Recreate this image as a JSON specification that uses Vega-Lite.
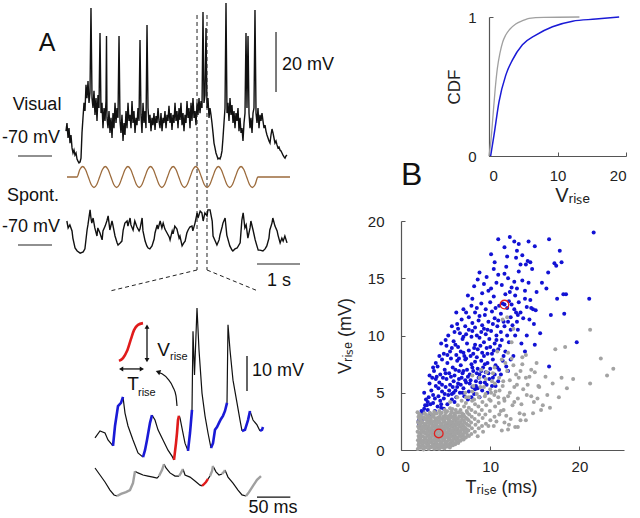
{
"$schema": "https://vega.github.io/schema/vega-lite/v6.json",
"padding": 0,
"background": "white",
"config": {
  "font": "Liberation Sans",
  "view": {"stroke": null},
  "axis": {"grid": false, "domainColor": "#555", "tickColor": "#555", "labelColor": "#222", "titleColor": "#222", "labelFontSize": 15, "titleFontSize": 18, "titleFontWeight": "normal", "tickSize": -4, "labelPadding": 10, "domainWidth": 1.2}
},
"spacing": 0,
"hconcat": [
{
  "width": 336, "height": 518,
  "resolve": {"scale": {"x": "independent", "y": "independent"}},
  "layer": [
    {
      "encoding": {
        "x": {"field": "t", "type": "quantitative", "scale": {"domain": [-1.5349, 6.2791], "nice": false, "zero": false}, "axis": null},
        "y": {"field": "v", "type": "quantitative", "scale": {"domain": [-191.667, -19], "nice": false, "zero": false}, "axis": null}
      },
      "layer": [
        {"data": {"values": [
{"t":0,"v":-61.7},{"t":0.023,"v":-59},{"t":0.047,"v":-64},{"t":0.07,"v":-60.7},{"t":0.093,"v":-65.7},{"t":0.116,"v":-63},{"t":0.14,"v":-67.3},{"t":0.163,"v":-69},{"t":0.186,"v":-68},{"t":0.209,"v":-69.7},{"t":0.233,"v":-69},{"t":0.256,"v":-71},{"t":0.279,"v":-71.7},{"t":0.302,"v":-72.3},{"t":0.326,"v":-72},{"t":0.349,"v":-70.7},{"t":0.372,"v":-62.3},{"t":0.395,"v":-57.3},{"t":0.419,"v":-52.3},{"t":0.442,"v":-55},{"t":0.465,"v":-46.3},{"t":0.488,"v":-50.7},{"t":0.512,"v":-45},{"t":0.535,"v":-52.3},{"t":0.558,"v":-49},{"t":0.581,"v":-20.7},{"t":0.605,"v":-50.7},{"t":0.628,"v":-54},{"t":0.651,"v":-48.3},{"t":0.674,"v":-56.3},{"t":0.698,"v":-50.7},{"t":0.721,"v":-58.3},{"t":0.744,"v":-49.7},{"t":0.767,"v":-54},{"t":0.791,"v":-29},{"t":0.814,"v":-55.7},{"t":0.837,"v":-52.3},{"t":0.86,"v":-60.7},{"t":0.884,"v":-54},{"t":0.907,"v":-58.3},{"t":0.93,"v":-51.7},{"t":0.942,"v":-30},{"t":0.953,"v":-57.3},{"t":0.977,"v":-60.7},{"t":1.0,"v":-55},{"t":1.023,"v":-62.3},{"t":1.047,"v":-57.3},{"t":1.07,"v":-64},{"t":1.093,"v":-55.7},{"t":1.116,"v":-60.7},{"t":1.14,"v":-52.3},{"t":1.163,"v":-59},{"t":1.186,"v":-54},{"t":1.209,"v":-57.3},{"t":1.233,"v":-30},{"t":1.256,"v":-58.3},{"t":1.279,"v":-62.3},{"t":1.302,"v":-56.3},{"t":1.326,"v":-65},{"t":1.349,"v":-59},{"t":1.372,"v":-63},{"t":1.395,"v":-55},{"t":1.419,"v":-60.7},{"t":1.442,"v":-52.3},{"t":1.465,"v":-58.3},{"t":1.488,"v":-56.3},{"t":1.512,"v":-60.7},{"t":1.535,"v":-51.7},{"t":1.558,"v":-59},{"t":1.581,"v":-55},{"t":1.605,"v":-62.3},{"t":1.628,"v":-57.3},{"t":1.651,"v":-59.7},{"t":1.674,"v":-54},{"t":1.698,"v":-58.3},{"t":1.721,"v":-31.3},{"t":1.744,"v":-56.3},{"t":1.767,"v":-62.3},{"t":1.791,"v":-52.3},{"t":1.814,"v":-59},{"t":1.837,"v":-55},{"t":1.86,"v":-60.7},{"t":1.884,"v":-26.3},{"t":1.907,"v":-54},{"t":1.93,"v":-59},{"t":1.953,"v":-56.3},{"t":1.977,"v":-61.7},{"t":2.0,"v":-57.3},{"t":2.023,"v":-59.7},{"t":2.047,"v":-55.7},{"t":2.07,"v":-61.3},{"t":2.093,"v":-56.7},{"t":2.116,"v":-59},{"t":2.14,"v":-54},{"t":2.163,"v":-58.3},{"t":2.186,"v":-60.7},{"t":2.209,"v":-55.7},{"t":2.233,"v":-61.7},{"t":2.256,"v":-57.3},{"t":2.279,"v":-59},{"t":2.302,"v":-55},{"t":2.326,"v":-60.7},{"t":2.349,"v":-56.3},{"t":2.372,"v":-58.3},{"t":2.395,"v":-53.3},{"t":2.419,"v":-59},{"t":2.442,"v":-55.7},{"t":2.465,"v":-61.3},{"t":2.488,"v":-56.3},{"t":2.512,"v":-59},{"t":2.535,"v":-52.3},{"t":2.558,"v":-58.3},{"t":2.581,"v":-55},{"t":2.605,"v":-60.7},{"t":2.628,"v":-54},{"t":2.651,"v":-58},{"t":2.674,"v":-52.3},{"t":2.698,"v":-59.7},{"t":2.721,"v":-55.7},{"t":2.744,"v":-61.7},{"t":2.767,"v":-56.3},{"t":2.791,"v":-59},{"t":2.814,"v":-51.7},{"t":2.837,"v":-57.3},{"t":2.86,"v":-54},{"t":2.884,"v":-60.7},{"t":2.907,"v":-52.3},{"t":2.93,"v":-58.3},{"t":2.953,"v":-50.7},{"t":2.977,"v":-57.3},{"t":3.0,"v":-55},{"t":3.023,"v":-59.7},{"t":3.047,"v":-52.3},{"t":3.07,"v":-56.3},{"t":3.093,"v":-50.7},{"t":3.116,"v":-55.7},{"t":3.14,"v":-51.7},{"t":3.163,"v":-54},{"t":3.186,"v":-22},{"t":3.209,"v":-52.3},{"t":3.233,"v":-49.7},{"t":3.256,"v":-27.3},{"t":3.279,"v":-54},{"t":3.302,"v":-50.7},{"t":3.326,"v":-57.3},{"t":3.349,"v":-54},{"t":3.372,"v":-56.3},{"t":3.395,"v":-59},{"t":3.419,"v":-62.3},{"t":3.442,"v":-65.7},{"t":3.465,"v":-67.3},{"t":3.488,"v":-69},{"t":3.512,"v":-70},{"t":3.535,"v":-71},{"t":3.558,"v":-70.7},{"t":3.581,"v":-71},{"t":3.605,"v":-70},{"t":3.628,"v":-68.3},{"t":3.651,"v":-64},{"t":3.674,"v":-59},{"t":3.698,"v":-54},{"t":3.721,"v":-19},{"t":3.744,"v":-55.7},{"t":3.767,"v":-52.3},{"t":3.791,"v":-58.3},{"t":3.814,"v":-50.7},{"t":3.837,"v":-56.3},{"t":3.86,"v":-53},{"t":3.884,"v":-59},{"t":3.907,"v":-55},{"t":3.93,"v":-60.7},{"t":3.953,"v":-55.7},{"t":3.977,"v":-58.3},{"t":4.0,"v":-54},{"t":4.023,"v":-61.7},{"t":4.047,"v":-57.3},{"t":4.07,"v":-62.3},{"t":4.093,"v":-60.7},{"t":4.116,"v":-65},{"t":4.14,"v":-59},{"t":4.163,"v":-55.7},{"t":4.186,"v":-29},{"t":4.209,"v":-54},{"t":4.233,"v":-30},{"t":4.256,"v":-55.7},{"t":4.279,"v":-60.7},{"t":4.302,"v":-57.3},{"t":4.326,"v":-62.3},{"t":4.349,"v":-55.7},{"t":4.372,"v":-54},{"t":4.395,"v":-21.3},{"t":4.419,"v":-55.7},{"t":4.442,"v":-59},{"t":4.465,"v":-54},{"t":4.488,"v":-60.7},{"t":4.512,"v":-56.3},{"t":4.535,"v":-58.3},{"t":4.558,"v":-55.7},{"t":4.581,"v":-58.3},{"t":4.605,"v":-60.7},{"t":4.628,"v":-59.7},{"t":4.651,"v":-61.7},{"t":4.674,"v":-63},{"t":4.698,"v":-64},{"t":4.721,"v":-65},{"t":4.744,"v":-65.7},{"t":4.767,"v":-63},{"t":4.791,"v":-61},{"t":4.814,"v":-62.3},{"t":4.837,"v":-64},{"t":4.86,"v":-65.7},{"t":4.884,"v":-65},{"t":4.907,"v":-66.3},{"t":4.93,"v":-67.3},{"t":4.953,"v":-67},{"t":4.977,"v":-68},{"t":5.0,"v":-68.3},{"t":5.023,"v":-69},{"t":5.047,"v":-69.7},{"t":5.07,"v":-70.3},{"t":5.093,"v":-70.7},{"t":5.116,"v":-70},{"t":5.14,"v":-69.7}
        ]}, "mark": {"type": "line", "color": "#111", "strokeWidth": 1.4}},
        {"data": {"values": [
          {"t":3.047,"v":-23,"t2":3.047,"v2":-108},{"t":3.279,"v":-23,"t2":3.279,"v2":-108},
          {"t":3.047,"v":-108,"t2":1.023,"v2":-115},{"t":3.279,"v":-108,"t2":4.465,"v2":-115}
        ]}, "mark": {"type": "rule", "strokeDash": [4, 3], "strokeWidth": 1, "color": "#222"},
         "encoding": {"x2": {"field": "t2"}, "y2": {"field": "v2"}}},
        {"data": {"values": [
          {"t":-1.116,"v":-70,"t2":-0.326,"v2":-70},{"t":4.884,"v":-28.67,"t2":4.884,"v2":-48.67},{"t":4.442,"v":-106,"t2":5.442,"v2":-106}
        ]}, "mark": {"type": "rule", "strokeWidth": 1.2, "color": "#222"},
         "encoding": {"x2": {"field": "t2"}, "y2": {"field": "v2"}}},
        {"data": {"values": [
          {"t":-0.674,"v":-53,"label":"Visual"},{"t":-0.814,"v":-64,"label":"-70 mV"},{"t":4.953,"v":-111.7,"label":"1 s"}
        ]}, "mark": {"type": "text", "fontSize": 18, "align": "center", "baseline": "middle", "color": "#111"},
         "encoding": {"text": {"field": "label"}}},
        {"data": {"values": [{"t":5.023,"v":-39.67,"label":"20 mV"}]},
         "mark": {"type": "text", "fontSize": 18, "align": "left", "baseline": "middle", "color": "#111"},
         "encoding": {"text": {"field": "label"}}},
        {"data": {"values": [{"t":-0.442,"v":-32.3,"label":"A"}]},
         "mark": {"type": "text", "fontSize": 25, "align": "center", "baseline": "middle", "color": "#111"},
         "encoding": {"text": {"field": "label"}}}
      ]
    },
    {
      "encoding": {
        "x": {"field": "t", "type": "quantitative", "scale": {"domain": [-1.5349, 6.2791], "nice": false, "zero": false}, "axis": null},
        "y": {"field": "v", "type": "quantitative", "scale": {"domain": [-162, 10.667], "nice": false, "zero": false}, "axis": null}
      },
      "layer": [
        {"data": {"values": [
{"t":0.02,"v":-62},{"t":0.05,"v":-64.3},{"t":0.09,"v":-63.3},{"t":0.14,"v":-65.3},{"t":0.16,"v":-67.7},{"t":0.21,"v":-71},{"t":0.26,"v":-72},{"t":0.33,"v":-72.7},{"t":0.4,"v":-72.3},{"t":0.44,"v":-71.3},{"t":0.49,"v":-65},{"t":0.51,"v":-63.3},{"t":0.56,"v":-58.3},{"t":0.58,"v":-61},{"t":0.6,"v":-62.7},{"t":0.63,"v":-61},{"t":0.67,"v":-64.3},{"t":0.72,"v":-67},{"t":0.74,"v":-64.3},{"t":0.79,"v":-66},{"t":0.84,"v":-68.3},{"t":0.86,"v":-65.3},{"t":0.91,"v":-63.7},{"t":0.95,"v":-62},{"t":0.98,"v":-60.3},{"t":1.02,"v":-65},{"t":1.07,"v":-62},{"t":1.09,"v":-63.3},{"t":1.14,"v":-67},{"t":1.19,"v":-69.3},{"t":1.21,"v":-70},{"t":1.26,"v":-69.3},{"t":1.3,"v":-68.7},{"t":1.33,"v":-65},{"t":1.37,"v":-62.7},{"t":1.42,"v":-62},{"t":1.44,"v":-63.7},{"t":1.49,"v":-61},{"t":1.51,"v":-63.3},{"t":1.56,"v":-65},{"t":1.6,"v":-62},{"t":1.65,"v":-64},{"t":1.7,"v":-65.3},{"t":1.72,"v":-64.7},{"t":1.77,"v":-61},{"t":1.79,"v":-65.3},{"t":1.84,"v":-68.7},{"t":1.88,"v":-70.3},{"t":1.91,"v":-71},{"t":1.95,"v":-71.3},{"t":2.0,"v":-70.3},{"t":2.05,"v":-68},{"t":2.07,"v":-66},{"t":2.12,"v":-63.3},{"t":2.14,"v":-64.7},{"t":2.19,"v":-62},{"t":2.23,"v":-64.3},{"t":2.26,"v":-62.7},{"t":2.3,"v":-64.7},{"t":2.35,"v":-66},{"t":2.4,"v":-67.3},{"t":2.42,"v":-68.3},{"t":2.47,"v":-65.3},{"t":2.49,"v":-66.3},{"t":2.53,"v":-63.7},{"t":2.58,"v":-64.7},{"t":2.63,"v":-67.7},{"t":2.65,"v":-67},{"t":2.7,"v":-70.3},{"t":2.74,"v":-69.3},{"t":2.77,"v":-68.7},{"t":2.81,"v":-66},{"t":2.84,"v":-65},{"t":2.88,"v":-64},{"t":2.93,"v":-63.7},{"t":2.95,"v":-65.3},{"t":3.0,"v":-62.7},{"t":3.05,"v":-59.3},{"t":3.07,"v":-61},{"t":3.12,"v":-58.7},{"t":3.16,"v":-59.3},{"t":3.19,"v":-62},{"t":3.23,"v":-59.3},{"t":3.28,"v":-60.3},{"t":3.3,"v":-58.3},{"t":3.35,"v":-58.3},{"t":3.4,"v":-62},{"t":3.42,"v":-67},{"t":3.47,"v":-68.7},{"t":3.51,"v":-70},{"t":3.56,"v":-68.3},{"t":3.58,"v":-66.7},{"t":3.63,"v":-64},{"t":3.65,"v":-62.7},{"t":3.7,"v":-61},{"t":3.74,"v":-66.7},{"t":3.79,"v":-69.3},{"t":3.81,"v":-70.3},{"t":3.86,"v":-71.7},{"t":3.88,"v":-72},{"t":3.93,"v":-71.3},{"t":3.98,"v":-71},{"t":4.05,"v":-69.3},{"t":4.09,"v":-61.7},{"t":4.12,"v":-59.3},{"t":4.16,"v":-64.3},{"t":4.19,"v":-63.3},{"t":4.23,"v":-67.7},{"t":4.28,"v":-64.3},{"t":4.3,"v":-62},{"t":4.35,"v":-65},{"t":4.4,"v":-68.3},{"t":4.44,"v":-70.3},{"t":4.47,"v":-71.7},{"t":4.51,"v":-71.7},{"t":4.58,"v":-72},{"t":4.63,"v":-71.3},{"t":4.67,"v":-70.3},{"t":4.72,"v":-67.7},{"t":4.74,"v":-65},{"t":4.79,"v":-62.7},{"t":4.81,"v":-61},{"t":4.86,"v":-63.7},{"t":4.91,"v":-65.3},{"t":4.93,"v":-66.7},{"t":4.98,"v":-69.3},{"t":5.02,"v":-67.7},{"t":5.05,"v":-68.7},{"t":5.09,"v":-67},{"t":5.14,"v":-69.3}
        ]}, "mark": {"type": "line", "color": "#111", "strokeWidth": 1.4}},
        {"data": {"values": [{"t":-1.116,"v":-70,"t2":-0.326,"v2":-70}]},
         "mark": {"type": "rule", "strokeWidth": 1.2, "color": "#222"},
         "encoding": {"x2": {"field": "t2"}, "y2": {"field": "v2"}}},
        {"data": {"values": [{"t":-0.767,"v":-53.7,"label":"Spont."},{"t":-0.814,"v":-64,"label":"-70 mV"}]},
         "mark": {"type": "text", "fontSize": 18, "align": "center", "baseline": "middle", "color": "#111"},
         "encoding": {"text": {"field": "label"}}}
      ]
    },
    {
      "data": {"values": [
{"t":0.023,"c":0},{"t":0.256,"c":0},{"t":0.322,"c":0.71},{"t":0.388,"c":1},{"t":0.453,"c":0.71},{"t":0.519,"c":0},{"t":0.585,"c":-0.71},{"t":0.651,"c":-1},{"t":0.716,"c":-0.71},{"t":0.782,"c":0},{"t":0.848,"c":0.71},{"t":0.914,"c":1},{"t":0.979,"c":0.71},{"t":1.045,"c":0},{"t":1.111,"c":-0.71},{"t":1.177,"c":-1},{"t":1.242,"c":-0.71},{"t":1.308,"c":0},{"t":1.374,"c":0.71},{"t":1.44,"c":1},{"t":1.505,"c":0.71},{"t":1.571,"c":0},{"t":1.637,"c":-0.71},{"t":1.703,"c":-1},{"t":1.768,"c":-0.71},{"t":1.834,"c":0},{"t":1.9,"c":0.71},{"t":1.966,"c":1},{"t":2.031,"c":0.71},{"t":2.097,"c":0},{"t":2.163,"c":-0.71},{"t":2.229,"c":-1},{"t":2.294,"c":-0.71},{"t":2.36,"c":0},{"t":2.426,"c":0.71},{"t":2.492,"c":1},{"t":2.557,"c":0.71},{"t":2.623,"c":0},{"t":2.689,"c":-0.71},{"t":2.755,"c":-1},{"t":2.82,"c":-0.71},{"t":2.886,"c":0},{"t":2.952,"c":0.71},{"t":3.018,"c":1},{"t":3.083,"c":0.71},{"t":3.149,"c":0},{"t":3.215,"c":-0.71},{"t":3.281,"c":-1},{"t":3.346,"c":-0.71},{"t":3.412,"c":0},{"t":3.478,"c":0.71},{"t":3.544,"c":1},{"t":3.609,"c":0.71},{"t":3.675,"c":0},{"t":3.741,"c":-0.71},{"t":3.807,"c":-1},{"t":3.872,"c":-0.71},{"t":3.938,"c":0},{"t":4.004,"c":0.71},{"t":4.07,"c":1},{"t":4.135,"c":0.71},{"t":4.201,"c":0},{"t":4.267,"c":-0.71},{"t":4.333,"c":-1},{"t":4.398,"c":-0.71},{"t":4.464,"c":0},{"t":5.21,"c":0}
      ]},
      "mark": {"type": "line", "color": "#9c6b3c", "strokeWidth": 1.3, "interpolate": "monotone"},
      "encoding": {
        "x": {"field": "t", "type": "quantitative", "scale": {"domain": [-1.5349, 6.2791], "nice": false, "zero": false}, "axis": null},
        "y": {"field": "c", "type": "quantitative", "scale": {"domain": [-32.762, 16.571], "nice": false, "zero": false}, "axis": null}
      }
    },
    {
      "encoding": {
        "x": {"field": "t", "type": "quantitative", "scale": {"domain": [-142.5, 361.5], "nice": false, "zero": false}, "axis": null},
        "y": {"field": "v", "type": "quantitative", "scale": {"domain": [-87.143, 60.857], "nice": false, "zero": false}, "axis": null}
      },
      "layer": [
        {"data": {"name": "zv", "values": [
{"t":0,"v":-63.4,"seg":1,"kind":"k"},{"t":7.5,"v":-61.4,"seg":1,"kind":"k"},{"t":15,"v":-62.0,"seg":1,"kind":"k"},{"t":19.5,"v":-64.0,"seg":1,"kind":"k"},{"t":27,"v":-65.7,"seg":1,"kind":"k"},
{"t":27,"v":-65.7,"seg":2,"kind":"b"},{"t":30,"v":-60.0,"seg":2,"kind":"b"},{"t":34.5,"v":-54.3,"seg":2,"kind":"b"},{"t":39,"v":-53.4,"seg":2,"kind":"b"},{"t":42,"v":-51.7,"seg":2,"kind":"b"},
{"t":42,"v":-51.7,"seg":3,"kind":"k"},{"t":45,"v":-56.3,"seg":3,"kind":"k"},{"t":49.5,"v":-60.0,"seg":3,"kind":"k"},{"t":57,"v":-64.0,"seg":3,"kind":"k"},{"t":64.5,"v":-67.7,"seg":3,"kind":"k"},{"t":72,"v":-68.9,"seg":3,"kind":"k"},
{"t":72,"v":-68.9,"seg":4,"kind":"b"},{"t":75,"v":-66.9,"seg":4,"kind":"b"},{"t":78,"v":-64.0,"seg":4,"kind":"b"},{"t":82.5,"v":-59.1,"seg":4,"kind":"b"},{"t":85.5,"v":-56.9,"seg":4,"kind":"b"},
{"t":85.5,"v":-56.9,"seg":5,"kind":"k"},{"t":90,"v":-58.3,"seg":5,"kind":"k"},{"t":94.5,"v":-61.1,"seg":5,"kind":"k"},{"t":102,"v":-64.0,"seg":5,"kind":"k"},{"t":109.5,"v":-66.9,"seg":5,"kind":"k"},{"t":115.5,"v":-68.6,"seg":5,"kind":"k"},{"t":118.5,"v":-69.7,"seg":5,"kind":"k"},
{"t":118.5,"v":-69.7,"seg":6,"kind":"r"},{"t":121.5,"v":-64.9,"seg":6,"kind":"r"},{"t":123,"v":-62.0,"seg":6,"kind":"r"},{"t":124.5,"v":-58.3,"seg":6,"kind":"r"},{"t":126,"v":-57.1,"seg":6,"kind":"r"},
{"t":126,"v":-57.1,"seg":7,"kind":"k"},{"t":127.5,"v":-57.7,"seg":7,"kind":"k"},{"t":130.5,"v":-60.6,"seg":7,"kind":"k"},{"t":135,"v":-64.9,"seg":7,"kind":"k"},{"t":139.5,"v":-67.1,"seg":7,"kind":"k"},
{"t":139.5,"v":-67.1,"seg":8,"kind":"b"},{"t":142.5,"v":-62.0,"seg":8,"kind":"b"},{"t":145.5,"v":-55.4,"seg":8,"kind":"b"},
{"t":145.5,"v":-55.4,"seg":9,"kind":"k"},{"t":147,"v":-32.9,"seg":9,"kind":"k"},{"t":149.25,"v":-45.4,"seg":9,"kind":"k"},{"t":153,"v":-26.3,"seg":9,"kind":"k"},{"t":156,"v":-38.3,"seg":9,"kind":"k"},{"t":160.5,"v":-50.6,"seg":9,"kind":"k"},{"t":165,"v":-57.1,"seg":9,"kind":"k"},{"t":169.5,"v":-62.0,"seg":9,"kind":"k"},{"t":174,"v":-66.3,"seg":9,"kind":"k"},
{"t":174,"v":-66.3,"seg":10,"kind":"b"},{"t":177,"v":-64.9,"seg":10,"kind":"b"},{"t":180,"v":-61.1,"seg":10,"kind":"b"},{"t":183,"v":-60.3,"seg":10,"kind":"b"},{"t":186,"v":-59.1,"seg":10,"kind":"b"},{"t":189,"v":-58.0,"seg":10,"kind":"b"},{"t":192,"v":-57.1,"seg":10,"kind":"b"},{"t":195,"v":-55.7,"seg":10,"kind":"b"},{"t":198,"v":-53.4,"seg":10,"kind":"b"},
{"t":198,"v":-53.4,"seg":11,"kind":"k"},{"t":199.5,"v":-31.1,"seg":11,"kind":"k"},{"t":202.5,"v":-38.3,"seg":11,"kind":"k"},{"t":207,"v":-46.9,"seg":11,"kind":"k"},{"t":213,"v":-53.4,"seg":11,"kind":"k"},{"t":217.5,"v":-58.3,"seg":11,"kind":"k"},{"t":220.5,"v":-61.4,"seg":11,"kind":"k"},
{"t":220.5,"v":-61.4,"seg":12,"kind":"b"},{"t":225,"v":-61.1,"seg":12,"kind":"b"},{"t":229.5,"v":-58.3,"seg":12,"kind":"b"},{"t":232.5,"v":-55.7,"seg":12,"kind":"b"},
{"t":232.5,"v":-55.7,"seg":13,"kind":"k"},{"t":237,"v":-58.3,"seg":13,"kind":"k"},{"t":243,"v":-59.7,"seg":13,"kind":"k"},{"t":247.5,"v":-61.4,"seg":13,"kind":"k"},
{"t":247.5,"v":-61.4,"seg":14,"kind":"b"},{"t":250.5,"v":-61.1,"seg":14,"kind":"b"},{"t":252,"v":-60.3,"seg":14,"kind":"b"}
        ]},
         "transform": [{"filter": "datum.kind === 'k'"}],
         "mark": {"type": "line", "color": "#111", "strokeWidth": 1.2},
         "encoding": {"detail": {"field": "seg", "type": "nominal"}}},
        {"data": {"name": "zv"},
         "transform": [{"filter": "datum.kind === 'b'"}],
         "mark": {"type": "line", "color": "#1a1ad6", "strokeWidth": 2.6},
         "encoding": {"detail": {"field": "seg", "type": "nominal"}}},
        {"data": {"name": "zv"},
         "transform": [{"filter": "datum.kind === 'r'"}],
         "mark": {"type": "line", "color": "#e01b1b", "strokeWidth": 2.6},
         "encoding": {"detail": {"field": "seg", "type": "nominal"}}},
        {"data": {"values": [
          {"t":36,"v":-41.4},{"t":42,"v":-40.6},{"t":48,"v":-38.6},{"t":54,"v":-35.1},{"t":58.5,"v":-32.6},{"t":64.5,"v":-31.1},{"t":72,"v":-30.6}
        ]}, "mark": {"type": "line", "color": "#e01b1b", "strokeWidth": 2.6, "interpolate": "monotone"}},
        {"data": {"values": [
          {"t":96,"v":-44.7},{"t":100.5,"v":-45.1},{"t":109.5,"v":-46.6},{"t":117,"v":-48.9},{"t":121.5,"v":-51.4},{"t":123,"v":-54.3}
        ]}, "mark": {"type": "line", "color": "#111", "strokeWidth": 1.2, "interpolate": "monotone"}},
        {"data": {"values": [
          {"t":78,"v":-32.0,"t2":78,"v2":-40.8},{"t":40,"v":-43.7,"t2":69.5,"v2":-43.7},
          {"t":228,"v":-40,"t2":228,"v2":-50},{"t":243,"v":-80.3,"t2":293,"v2":-80.3}
        ]}, "mark": {"type": "rule", "strokeWidth": 1.3, "color": "#111"},
         "encoding": {"x2": {"field": "t2"}, "y2": {"field": "v2"}}},
        {"data": {"values": [
          {"t":78,"v":-31.6,"dir":"up"},{"t":78,"v":-41.2,"dir":"down"},{"t":39.2,"v":-43.7,"dir":"left"},{"t":70.3,"v":-43.7,"dir":"right"}
        ]}, "mark": {"type": "point", "filled": true, "size": 24, "color": "#111", "opacity": 1},
         "encoding": {"shape": {"field": "dir", "type": "nominal", "scale": {"domain": ["up", "down", "left", "right"], "range": ["triangle-up", "triangle-down", "triangle-left", "triangle-right"]}, "legend": null}}},
        {"data": {"values": [{"t":94.5,"v":-44.5}]},
         "mark": {"type": "point", "shape": "triangle-left", "angle": 20, "filled": true, "size": 30, "color": "#111", "opacity": 1}},
        {"data": {"values": [{"t":102.75,"v":-38.3,"label":"V"},{"t":57,"v":-48.1,"label":"T"}]},
         "mark": {"type": "text", "fontSize": 19, "align": "center", "baseline": "middle", "color": "#111"},
         "encoding": {"text": {"field": "label"}}},
        {"data": {"values": [{"t":112.5,"v":-40.4,"label":"rise"},{"t":64.5,"v":-50.5,"label":"rise"}]},
         "mark": {"type": "text", "fontSize": 11, "align": "left", "baseline": "middle", "color": "#111"},
         "encoding": {"text": {"field": "label"}}},
        {"data": {"values": [{"t":235.5,"v":-44.3,"label":"10 mV"}]},
         "mark": {"type": "text", "fontSize": 18, "align": "left", "baseline": "middle", "color": "#111"},
         "encoding": {"text": {"field": "label"}}},
        {"data": {"values": [{"t":267,"v":-83.3,"label":"50 ms"}]},
         "mark": {"type": "text", "fontSize": 18, "align": "center", "baseline": "middle", "color": "#111"},
         "encoding": {"text": {"field": "label"}}}
      ]
    },
    {
      "data": {"name": "zs", "values": [
{"t":0,"v":-64.0,"seg":1,"kind":"k"},{"t":7.5,"v":-66.0,"seg":1,"kind":"k"},{"t":15,"v":-68.0,"seg":1,"kind":"k"},{"t":22.5,"v":-70.3,"seg":1,"kind":"k"},{"t":28.5,"v":-71.7,"seg":1,"kind":"k"},{"t":33,"v":-72.0,"seg":1,"kind":"k"},
{"t":33,"v":-72.0,"seg":2,"kind":"g"},{"t":39,"v":-71.4,"seg":2,"kind":"g"},{"t":46.5,"v":-70.9,"seg":2,"kind":"g"},{"t":52.5,"v":-70.3,"seg":2,"kind":"g"},{"t":57,"v":-68.3,"seg":2,"kind":"g"},{"t":60,"v":-64.9,"seg":2,"kind":"g"},
{"t":60,"v":-64.9,"seg":3,"kind":"k"},{"t":64.5,"v":-65.4,"seg":3,"kind":"k"},{"t":72,"v":-66.0,"seg":3,"kind":"k"},{"t":79.5,"v":-66.3,"seg":3,"kind":"k"},{"t":87,"v":-66.6,"seg":3,"kind":"k"},{"t":93,"v":-66.9,"seg":3,"kind":"k"},{"t":96,"v":-66.3,"seg":3,"kind":"k"},
{"t":96,"v":-66.3,"seg":4,"kind":"g"},{"t":100.5,"v":-64.6,"seg":4,"kind":"g"},{"t":103.5,"v":-62.9,"seg":4,"kind":"g"},
{"t":103.5,"v":-62.9,"seg":5,"kind":"k"},{"t":106.5,"v":-64.0,"seg":5,"kind":"k"},{"t":112.5,"v":-65.4,"seg":5,"kind":"k"},{"t":120,"v":-66.3,"seg":5,"kind":"k"},{"t":126,"v":-66.3,"seg":5,"kind":"k"},
{"t":126,"v":-66.3,"seg":6,"kind":"g"},{"t":129,"v":-65.4,"seg":6,"kind":"g"},{"t":132,"v":-64.3,"seg":6,"kind":"g"},
{"t":132,"v":-64.3,"seg":7,"kind":"k"},{"t":135,"v":-66.0,"seg":7,"kind":"k"},{"t":142.5,"v":-66.6,"seg":7,"kind":"k"},{"t":150,"v":-67.7,"seg":7,"kind":"k"},{"t":157.5,"v":-68.9,"seg":7,"kind":"k"},{"t":160.5,"v":-69.1,"seg":7,"kind":"k"},
{"t":160.5,"v":-69.1,"seg":8,"kind":"r"},{"t":163.5,"v":-68.6,"seg":8,"kind":"r"},{"t":166.5,"v":-68.0,"seg":8,"kind":"r"},{"t":169.5,"v":-67.1,"seg":8,"kind":"r"},
{"t":169.5,"v":-67.1,"seg":9,"kind":"k"},{"t":172.5,"v":-66.3,"seg":9,"kind":"k"},
{"t":172.5,"v":-66.3,"seg":10,"kind":"g"},{"t":175.5,"v":-64.9,"seg":10,"kind":"g"},{"t":177,"v":-63.4,"seg":10,"kind":"g"},
{"t":177,"v":-63.4,"seg":11,"kind":"k"},{"t":181.5,"v":-65.1,"seg":11,"kind":"k"},{"t":186,"v":-66.0,"seg":11,"kind":"k"},{"t":190.5,"v":-65.7,"seg":11,"kind":"k"},
{"t":190.5,"v":-65.7,"seg":12,"kind":"g"},{"t":193.5,"v":-65.1,"seg":12,"kind":"g"},{"t":195,"v":-64.6,"seg":12,"kind":"g"},
{"t":195,"v":-64.6,"seg":13,"kind":"k"},{"t":199.5,"v":-66.6,"seg":13,"kind":"k"},{"t":207,"v":-68.3,"seg":13,"kind":"k"},{"t":214.5,"v":-70.3,"seg":13,"kind":"k"},{"t":220.5,"v":-71.7,"seg":13,"kind":"k"},{"t":226.5,"v":-72.0,"seg":13,"kind":"k"},
{"t":226.5,"v":-72.0,"seg":14,"kind":"g"},{"t":231,"v":-70.9,"seg":14,"kind":"g"},{"t":237,"v":-69.1,"seg":14,"kind":"g"},{"t":243,"v":-67.4,"seg":14,"kind":"g"},{"t":249,"v":-66.3,"seg":14,"kind":"g"}
      ]},
      "encoding": {
        "x": {"field": "t", "type": "quantitative", "scale": {"domain": [-142.5, 361.5], "nice": false, "zero": false}, "axis": null},
        "y": {"field": "v", "type": "quantitative", "scale": {"domain": [-79.143, 68.857], "nice": false, "zero": false}, "axis": null},
        "detail": {"field": "seg", "type": "nominal"}
      },
      "layer": [
        {"transform": [{"filter": "datum.kind === 'k'"}], "mark": {"type": "line", "color": "#111", "strokeWidth": 1.2}},
        {"transform": [{"filter": "datum.kind === 'g'"}], "mark": {"type": "line", "color": "#a0a0a0", "strokeWidth": 2.4}},
        {"transform": [{"filter": "datum.kind === 'r'"}], "mark": {"type": "line", "color": "#e01b1b", "strokeWidth": 2.4}}
      ]
    }
  ]
},
{
  "spacing": 9,
  "vconcat": [
    {
      "spacing": 6,
      "vconcat": [
        {"width": 1, "height": 1, "data": {"values": []}, "mark": "point"},
        {
          "spacing": 0,
          "hconcat": [
            {
              "width": 44, "height": 139,
              "data": {"values": [{"bx": 0, "by": -0.137, "label": "B"}]},
              "mark": {"type": "text", "fontSize": 32, "align": "left", "baseline": "middle", "color": "#111"},
              "encoding": {
                "x": {"field": "bx", "type": "quantitative", "scale": {"domain": [0, 1]}, "axis": null},
                "y": {"field": "by", "type": "quantitative", "scale": {"domain": [0, 1]}, "axis": null},
                "text": {"field": "label"}
              }
            },
            {
              "width": 137, "height": 139,
              "encoding": {
                "x": {"field": "x", "type": "quantitative", "scale": {"domain": [0, 20], "nice": false}, "axis": {"values": [0, 10, 20], "title": "Vᵣᵢₛₑ", "titleFontSize": 20, "titlePadding": 2, "labelPadding": 16, "titleX": 83}},
                "y": {"field": "p", "type": "quantitative", "scale": {"domain": [0, 1]}, "axis": {"values": [0, 1], "format": "d", "title": "CDF", "titleFontSize": 17, "titlePadding": 4, "labelPadding": 17}}
              },
              "layer": [
                {"data": {"values": [
                  {"x":0,"p":0},{"x":0.3,"p":0.12},{"x":0.6,"p":0.3},{"x":0.9,"p":0.48},{"x":1.22,"p":0.63},{"x":1.6,"p":0.74},{"x":2.0,"p":0.82},{"x":2.44,"p":0.87},{"x":3.0,"p":0.91},{"x":3.9,"p":0.95},{"x":5.0,"p":0.975},{"x":5.85,"p":0.99},{"x":8,"p":0.997},{"x":13.2,"p":1}
                ]}, "mark": {"type": "line", "color": "#a0a0a0", "strokeWidth": 1.3, "interpolate": "monotone"}},
                {"data": {"values": [
                  {"x":0.24,"p":0},{"x":0.73,"p":0.15},{"x":1.46,"p":0.39},{"x":2.44,"p":0.58},{"x":3.41,"p":0.69},{"x":4.88,"p":0.8},{"x":6.83,"p":0.87},{"x":9.27,"p":0.93},{"x":12.2,"p":0.97},{"x":15.6,"p":0.985},{"x":19.0,"p":1}
                ]}, "mark": {"type": "line", "color": "#1a1ad6", "strokeWidth": 1.5, "interpolate": "monotone"}}
              ]
            }
          ]
        }
      ]
    },
    {
      "width": 223, "height": 229,
      "encoding": {
        "x": {"field": "t", "type": "quantitative", "scale": {"domain": [0, 25], "nice": false}, "axis": {"values": [0, 10, 20], "title": "Tᵣᵢₛₑ (ms)", "titlePadding": 4, "labelPadding": 13, "titleX": 100}},
        "y": {"field": "v", "type": "quantitative", "scale": {"domain": [0, 20]}, "axis": {"values": [0, 5, 10, 15, 20], "title": "Vᵣᵢₛₑ (mV)", "titlePadding": 13, "labelPadding": 21}}
      },
      "layer": [
        {"data": {"values": [
{"t":2.0,"v":2.3},{"t":2.1,"v":2.9},{"t":2.3,"v":3.4},{"t":2.6,"v":3.6},{"t":2.9,"v":3.9},{"t":3.3,"v":3.1},{"t":3.6,"v":4.1},{"t":4.1,"v":3.8},{"t":4.4,"v":4.3},{"t":4.8,"v":3.6},{"t":5.2,"v":4.0},{"t":5.7,"v":4.4},{"t":2.0,"v":2.6},{"t":2.2,"v":3.1},{"t":2.5,"v":3.3},{"t":3.0,"v":3.5},{"t":3.8,"v":3.4},{"t":4.5,"v":3.7},{"t":2.05,"v":2.0},{"t":2.4,"v":2.7},
{"t":3.1,"v":4.6},{"t":3.4,"v":5.2},{"t":3.6,"v":4.8},{"t":3.9,"v":5.6},{"t":4.2,"v":4.7},{"t":4.3,"v":5.9},{"t":4.6,"v":5.1},{"t":4.8,"v":4.5},{"t":5.0,"v":5.5},{"t":5.1,"v":6.2},{"t":5.3,"v":4.8},{"t":5.5,"v":5.7},{"t":5.7,"v":4.9},{"t":5.9,"v":6.0},{"t":6.1,"v":5.2},{"t":6.2,"v":4.6},{"t":6.4,"v":5.8},{"t":6.6,"v":5.0},{"t":6.8,"v":6.3},{"t":7.0,"v":5.4},{"t":7.1,"v":4.7},{"t":7.3,"v":5.9},{"t":7.6,"v":5.1},{"t":7.8,"v":6.1},{"t":8.0,"v":5.5},{"t":8.2,"v":4.9},{"t":8.4,"v":6.0},{"t":8.6,"v":5.4},{"t":8.9,"v":5.9},{"t":9.1,"v":5.2},{"t":9.3,"v":6.4},{"t":9.6,"v":5.7},{"t":9.9,"v":6.2},{"t":10.2,"v":5.6},{"t":10.5,"v":6.6},{"t":10.9,"v":6.0},{"t":3.5,"v":6.3},{"t":4.0,"v":6.4},{"t":4.7,"v":6.3},{"t":3.2,"v":5.8},{"t":2.8,"v":4.4},{"t":2.6,"v":5.0},{"t":6.0,"v":4.2},{"t":7.5,"v":4.4},{"t":8.8,"v":4.6},
{"t":3.7,"v":6.9},{"t":4.1,"v":7.3},{"t":4.4,"v":6.6},{"t":4.9,"v":7.0},{"t":5.2,"v":7.6},{"t":5.4,"v":6.7},{"t":5.8,"v":7.2},{"t":6.0,"v":6.5},{"t":6.3,"v":7.8},{"t":6.5,"v":6.9},{"t":6.7,"v":7.4},{"t":6.9,"v":6.7},{"t":7.2,"v":7.9},{"t":7.4,"v":7.0},{"t":7.7,"v":6.6},{"t":7.9,"v":7.5},{"t":8.1,"v":6.9},{"t":8.3,"v":7.7},{"t":8.6,"v":7.1},{"t":8.8,"v":6.6},{"t":9.0,"v":7.8},{"t":9.2,"v":7.2},{"t":9.5,"v":6.8},{"t":9.7,"v":7.6},{"t":10.0,"v":7.1},{"t":10.3,"v":7.9},{"t":10.6,"v":7.4},{"t":11.0,"v":7.0},{"t":11.4,"v":7.8},{"t":11.8,"v":7.3},{"t":4.6,"v":7.9},{"t":5.6,"v":8.0},{"t":3.9,"v":6.2},{"t":12.3,"v":7.9},{"t":12.0,"v":6.9},
{"t":4.8,"v":8.4},{"t":5.1,"v":9.1},{"t":5.5,"v":8.6},{"t":5.9,"v":9.5},{"t":6.2,"v":8.3},{"t":6.4,"v":9.0},{"t":6.7,"v":8.6},{"t":6.9,"v":9.7},{"t":7.1,"v":8.2},{"t":7.4,"v":9.3},{"t":7.6,"v":8.7},{"t":7.9,"v":9.9},{"t":8.1,"v":8.4},{"t":8.3,"v":9.2},{"t":8.6,"v":8.8},{"t":8.8,"v":9.8},{"t":9.1,"v":8.5},{"t":9.3,"v":9.4},{"t":9.6,"v":8.9},{"t":9.9,"v":9.7},{"t":10.2,"v":8.4},{"t":10.5,"v":9.3},{"t":10.9,"v":8.8},{"t":11.3,"v":9.6},{"t":11.7,"v":8.6},{"t":12.1,"v":9.4},{"t":5.3,"v":10.0},{"t":6.0,"v":10.3},{"t":6.6,"v":10.2},{"t":7.3,"v":10.1},{"t":8.0,"v":10.4},{"t":8.5,"v":10.0},{"t":9.0,"v":10.3},{"t":9.5,"v":10.1},{"t":10.1,"v":10.4},{"t":10.7,"v":10.0},{"t":11.2,"v":10.3},{"t":12.3,"v":10.5},{"t":12.6,"v":8.2},
{"t":6.3,"v":11.0},{"t":6.8,"v":11.4},{"t":7.2,"v":10.8},{"t":7.6,"v":11.6},{"t":8.0,"v":11.1},{"t":8.3,"v":12.0},{"t":8.7,"v":11.3},{"t":9.1,"v":10.9},{"t":9.4,"v":11.8},{"t":9.8,"v":11.2},{"t":10.2,"v":12.1},{"t":10.5,"v":11.5},{"t":10.8,"v":10.8},{"t":11.2,"v":11.9},{"t":11.5,"v":11.2},{"t":11.9,"v":12.4},{"t":12.3,"v":11.6},{"t":12.7,"v":12.3},{"t":13.0,"v":11.2},{"t":13.4,"v":12.0},{"t":13.7,"v":11.5},{"t":14.1,"v":12.5},{"t":14.4,"v":11.4},{"t":14.8,"v":12.3},{"t":7.0,"v":12.3},{"t":7.9,"v":12.6},{"t":9.0,"v":12.8},{"t":10.0,"v":12.9},{"t":11.0,"v":12.6},{"t":12.1,"v":13.0},{"t":13.2,"v":12.9},{"t":13.9,"v":13.2},{"t":6.2,"v":12.0},{"t":5.7,"v":10.8},
{"t":7.5,"v":13.5},{"t":8.2,"v":14.3},{"t":8.6,"v":14.9},{"t":9.1,"v":13.7},{"t":9.6,"v":15.1},{"t":10.1,"v":14.1},{"t":10.4,"v":13.4},{"t":10.9,"v":15.3},{"t":11.3,"v":14.4},{"t":11.7,"v":13.6},{"t":12.0,"v":15.0},{"t":12.4,"v":14.2},{"t":12.8,"v":13.5},{"t":13.2,"v":15.6},{"t":13.6,"v":14.8},{"t":14.0,"v":16.2},{"t":14.3,"v":14.6},{"t":14.7,"v":15.8},{"t":15.2,"v":13.8},{"t":15.8,"v":14.6},{"t":16.3,"v":14.1},{"t":8.8,"v":15.5},{"t":10.4,"v":15.8},{"t":11.8,"v":16.0},{"t":13.4,"v":16.2},{"t":14.5,"v":16.4},{"t":12.7,"v":14.7},{"t":9.8,"v":13.9},
{"t":10.1,"v":17.1},{"t":10.9,"v":18.4},{"t":11.6,"v":17.7},{"t":12.2,"v":18.6},{"t":12.7,"v":18.2},{"t":13.0,"v":17.4},{"t":13.6,"v":17.0},{"t":14.2,"v":16.5},{"t":11.9,"v":16.9},{"t":10.5,"v":16.4},{"t":12.9,"v":16.8},{"t":14.3,"v":18.2},{"t":13.2,"v":18.0},
{"t":16.6,"v":18.4},{"t":17.8,"v":17.4},{"t":17.2,"v":16.3},{"t":17.4,"v":16.1},{"t":18.0,"v":16.4},{"t":21.6,"v":19.0},{"t":16.5,"v":15.5},{"t":17.5,"v":13.2},{"t":18.2,"v":13.6},{"t":18.5,"v":13.6},{"t":16.8,"v":11.8},{"t":18.3,"v":11.9},{"t":21.1,"v":13.2},{"t":19.7,"v":9.4},{"t":16.6,"v":7.3},{"t":15.1,"v":12.2},{"t":14.9,"v":11.0},{"t":15.6,"v":10.2},{"t":15.0,"v":9.2},{"t":14.1,"v":10.0},{"t":13.5,"v":9.3},{"t":13.1,"v":10.5},{"t":13.9,"v":8.6},{"t":12.8,"v":10.0},{"t":15.0,"v":17.8},{"t":11.6,"v":12.7},
{"t":4.5,"v":4.0},{"t":4.9,"v":4.9},{"t":5.4,"v":5.2},{"t":5.8,"v":5.5},{"t":6.3,"v":5.5},{"t":6.7,"v":5.7},{"t":7.2,"v":6.1},{"t":7.7,"v":5.8},{"t":8.3,"v":5.3},{"t":8.7,"v":6.3},{"t":9.4,"v":5.9},{"t":9.8,"v":6.7},{"t":10.3,"v":6.3},{"t":10.8,"v":7.2},{"t":11.2,"v":6.6},{"t":6.5,"v":6.2},{"t":7.0,"v":6.9},{"t":7.5,"v":6.4},{"t":8.0,"v":7.2},{"t":8.5,"v":6.7},{"t":9.0,"v":6.9},{"t":9.4,"v":7.5},{"t":5.0,"v":6.7},{"t":5.6,"v":6.4},{"t":6.1,"v":7.0},{"t":4.2,"v":5.4},{"t":4.6,"v":5.7},{"t":3.8,"v":4.5},{"t":3.3,"v":4.0},{"t":2.7,"v":3.9},{"t":3.0,"v":4.2},{"t":5.9,"v":5.0},{"t":6.9,"v":5.0},{"t":7.9,"v":4.6},{"t":8.4,"v":5.6},{"t":9.7,"v":5.0},{"t":10.6,"v":5.6},{"t":5.2,"v":8.3},{"t":5.7,"v":8.9},{"t":6.1,"v":9.2},{"t":6.5,"v":8.0},{"t":7.0,"v":8.5},{"t":7.3,"v":8.0},{"t":7.8,"v":8.2},{"t":8.2,"v":8.9},{"t":8.5,"v":8.1},{"t":8.9,"v":9.1},{"t":9.3,"v":8.2},{"t":9.7,"v":8.4},{"t":10.0,"v":9.0},{"t":10.4,"v":8.7},{"t":10.7,"v":9.6},{"t":11.1,"v":9.1},{"t":11.5,"v":8.2},{"t":11.9,"v":10.0},{"t":6.4,"v":10.6},{"t":7.0,"v":9.9},{"t":7.6,"v":10.5},{"t":8.3,"v":10.7},{"t":8.8,"v":11.7},{"t":9.3,"v":10.6},{"t":9.7,"v":10.5},{"t":10.3,"v":11.0},{"t":10.9,"v":11.3},{"t":11.6,"v":10.8},{"t":12.0,"v":11.2},{"t":12.5,"v":10.9},{"t":13.1,"v":11.8},{"t":7.3,"v":12.0},{"t":8.5,"v":12.4},{"t":9.5,"v":12.3},{"t":10.6,"v":12.4},{"t":11.4,"v":12.8},{"t":12.4,"v":12.7},{"t":8.0,"v":13.2},{"t":9.3,"v":14.5},{"t":10.7,"v":14.6},{"t":11.6,"v":15.4},{"t":12.2,"v":13.8},{"t":13.0,"v":14.1},{"t":13.9,"v":13.9},{"t":14.5,"v":13.1},{"t":3.9,"v":7.6},{"t":4.3,"v":8.2},{"t":4.5,"v":9.3},{"t":5.0,"v":9.6},{"t":3.2,"v":6.5},{"t":3.6,"v":7.2},{"t":14.6,"v":12.4},{"t":12.9,"v":12.0}
        ]}, "mark": {"type": "circle", "color": "#1212d4", "size": 16, "opacity": 1}},
        {"data": {"values": [
{"t":1.88,"v":0.08},{"t":1.95,"v":0.45},{"t":1.9,"v":0.85},{"t":1.97,"v":1.22},{"t":1.86,"v":1.6},{"t":1.93,"v":2.05},{"t":1.9,"v":2.45},{"t":1.96,"v":2.9},{"t":1.85,"v":3.3},
{"t":2.18,"v":0.2},{"t":2.25,"v":0.62},{"t":2.15,"v":0.98},{"t":2.22,"v":1.45},{"t":2.28,"v":1.78},{"t":2.17,"v":2.25},{"t":2.24,"v":2.62},{"t":2.2,"v":3.05},
{"t":2.52,"v":0.05},{"t":2.46,"v":0.42},{"t":2.55,"v":0.82},{"t":2.48,"v":1.18},{"t":2.57,"v":1.62},{"t":2.5,"v":2.03},{"t":2.44,"v":2.38},{"t":2.56,"v":2.85},
{"t":2.78,"v":0.22},{"t":2.85,"v":0.6},{"t":2.76,"v":1.02},{"t":2.83,"v":1.41},{"t":2.88,"v":1.83},{"t":2.79,"v":2.18},{"t":2.86,"v":2.64},{"t":2.8,"v":3.1},
{"t":3.12,"v":0.08},{"t":3.05,"v":0.5},{"t":3.16,"v":0.92},{"t":3.09,"v":1.28},{"t":3.14,"v":1.72},{"t":3.06,"v":2.1},{"t":3.18,"v":2.52},{"t":3.1,"v":2.95},
{"t":3.38,"v":0.25},{"t":3.45,"v":0.66},{"t":3.36,"v":1.06},{"t":3.43,"v":1.47},{"t":3.47,"v":1.84},{"t":3.4,"v":2.27},{"t":3.35,"v":2.66},{"t":3.44,"v":3.12},
{"t":3.72,"v":0.12},{"t":3.66,"v":0.48},{"t":3.75,"v":0.9},{"t":3.68,"v":1.32},{"t":3.74,"v":1.71},{"t":3.7,"v":2.12},{"t":3.77,"v":2.52},{"t":3.67,"v":2.96},{"t":3.73,"v":3.35},
{"t":4.02,"v":0.18},{"t":3.96,"v":0.6},{"t":4.05,"v":1.0},{"t":4.0,"v":1.38},{"t":4.07,"v":1.82},{"t":3.98,"v":2.2},{"t":4.04,"v":2.6},{"t":4.01,"v":3.18},
{"t":4.28,"v":0.1},{"t":4.35,"v":0.5},{"t":4.26,"v":0.88},{"t":4.33,"v":1.3},{"t":4.3,"v":1.7},{"t":4.37,"v":2.1},{"t":4.27,"v":2.52},{"t":4.34,"v":2.9},{"t":4.29,"v":3.4},
{"t":4.62,"v":0.22},{"t":4.56,"v":0.62},{"t":4.65,"v":1.02},{"t":4.58,"v":1.4},{"t":4.64,"v":1.8},{"t":4.6,"v":2.2},{"t":4.67,"v":2.68},{"t":4.57,"v":3.25},
{"t":4.88,"v":0.15},{"t":4.95,"v":0.55},{"t":4.86,"v":0.95},{"t":4.93,"v":1.36},{"t":4.9,"v":1.76},{"t":4.97,"v":2.15},{"t":4.87,"v":2.56},{"t":4.94,"v":3.02},{"t":4.9,"v":3.5},
{"t":5.22,"v":0.3},{"t":5.16,"v":0.7},{"t":5.25,"v":1.1},{"t":5.18,"v":1.5},{"t":5.24,"v":1.9},{"t":5.2,"v":2.32},{"t":5.27,"v":2.72},{"t":5.17,"v":3.38},
{"t":5.48,"v":0.22},{"t":5.55,"v":0.6},{"t":5.46,"v":1.0},{"t":5.53,"v":1.42},{"t":5.5,"v":1.8},{"t":5.57,"v":2.22},{"t":5.47,"v":2.6},{"t":5.54,"v":3.1},{"t":5.5,"v":3.65},
{"t":5.82,"v":0.42},{"t":5.76,"v":0.8},{"t":5.85,"v":1.22},{"t":5.78,"v":1.6},{"t":5.84,"v":2.0},{"t":5.8,"v":2.42},{"t":5.87,"v":2.9},{"t":5.77,"v":3.58},
{"t":6.08,"v":0.5},{"t":6.15,"v":0.9},{"t":6.06,"v":1.3},{"t":6.13,"v":1.7},{"t":6.1,"v":2.12},{"t":6.17,"v":2.5},{"t":6.07,"v":3.0},{"t":6.14,"v":3.5},
{"t":6.42,"v":0.62},{"t":6.36,"v":1.02},{"t":6.45,"v":1.42},{"t":6.38,"v":1.8},{"t":6.44,"v":2.22},{"t":6.4,"v":2.7},{"t":6.47,"v":3.3},{"t":6.37,"v":3.9},
{"t":6.68,"v":0.8},{"t":6.75,"v":1.2},{"t":6.66,"v":1.6},{"t":6.73,"v":2.0},{"t":6.7,"v":2.42},{"t":6.77,"v":2.9},{"t":6.67,"v":3.5},
{"t":7.02,"v":0.92},{"t":6.96,"v":1.32},{"t":7.05,"v":1.72},{"t":6.98,"v":2.12},{"t":7.04,"v":2.6},{"t":7.0,"v":3.1},{"t":7.07,"v":3.8},
{"t":7.28,"v":1.1},{"t":7.35,"v":1.5},{"t":7.26,"v":1.9},{"t":7.33,"v":2.3},{"t":7.3,"v":2.8},{"t":7.37,"v":3.4},{"t":7.27,"v":4.1},
{"t":7.62,"v":1.22},{"t":7.56,"v":1.7},{"t":7.65,"v":2.12},{"t":7.58,"v":2.6},{"t":7.64,"v":3.1},{"t":7.6,"v":3.7},
{"t":7.88,"v":1.4},{"t":7.95,"v":1.9},{"t":7.86,"v":2.4},{"t":7.93,"v":2.9},{"t":7.9,"v":3.5},{"t":7.97,"v":4.3},
{"t":8.28,"v":1.6},{"t":8.35,"v":2.2},{"t":8.26,"v":2.7},{"t":8.33,"v":3.3},{"t":8.3,"v":4.0},
{"t":8.72,"v":1.9},{"t":8.66,"v":2.5},{"t":8.75,"v":3.1},{"t":8.68,"v":3.8},{"t":8.74,"v":4.6},
{"t":9.08,"v":2.1},{"t":9.15,"v":2.8},{"t":9.06,"v":3.5},{"t":9.13,"v":4.2},
{"t":9.52,"v":2.3},{"t":9.46,"v":3.1},{"t":9.55,"v":3.9},{"t":9.48,"v":4.9},
{"t":10.02,"v":2.6},{"t":9.96,"v":3.4},{"t":10.05,"v":4.3},
{"t":10.48,"v":2.9},{"t":10.55,"v":3.8},{"t":10.46,"v":4.8},{"t":10.52,"v":5.8},
{"t":11.02,"v":3.1},{"t":10.96,"v":4.1},{"t":11.05,"v":5.2},
{"t":11.5,"v":3.5},{"t":11.56,"v":4.5},{"t":11.46,"v":6.0},
{"t":2.03,"v":0.28},{"t":2.03,"v":0.68},{"t":2.03,"v":1.08},{"t":2.03,"v":1.52},{"t":2.03,"v":1.88},{"t":2.03,"v":2.32},{"t":2.03,"v":2.72},{"t":2.03,"v":3.15},
{"t":2.33,"v":0.35},{"t":2.33,"v":0.78},{"t":2.33,"v":1.2},{"t":2.33,"v":1.6},{"t":2.33,"v":2.0},{"t":2.33,"v":2.45},{"t":2.33,"v":2.85},
{"t":2.63,"v":0.25},{"t":2.63,"v":0.65},{"t":2.63,"v":1.05},{"t":2.63,"v":1.48},{"t":2.63,"v":1.9},{"t":2.63,"v":2.28},{"t":2.63,"v":2.7},{"t":2.63,"v":3.2},
{"t":2.93,"v":0.38},{"t":2.93,"v":0.8},{"t":2.93,"v":1.22},{"t":2.93,"v":1.62},{"t":2.93,"v":2.02},{"t":2.93,"v":2.42},{"t":2.93,"v":2.86},
{"t":3.23,"v":0.3},{"t":3.23,"v":0.7},{"t":3.23,"v":1.12},{"t":3.23,"v":1.5},{"t":3.23,"v":1.92},{"t":3.23,"v":2.32},{"t":3.23,"v":2.74},{"t":3.23,"v":3.25},
{"t":3.53,"v":0.42},{"t":3.53,"v":0.85},{"t":3.53,"v":1.25},{"t":3.53,"v":1.65},{"t":3.53,"v":2.05},{"t":3.53,"v":2.45},{"t":3.53,"v":2.9},
{"t":3.83,"v":0.32},{"t":3.83,"v":0.72},{"t":3.83,"v":1.12},{"t":3.83,"v":1.52},{"t":3.83,"v":1.92},{"t":3.83,"v":2.32},{"t":3.83,"v":2.75},{"t":3.83,"v":3.2},
{"t":4.13,"v":0.38},{"t":4.13,"v":0.8},{"t":4.13,"v":1.2},{"t":4.13,"v":1.6},{"t":4.13,"v":2.02},{"t":4.13,"v":2.4},{"t":4.13,"v":2.82},
{"t":4.43,"v":0.3},{"t":4.43,"v":0.72},{"t":4.43,"v":1.12},{"t":4.43,"v":1.5},{"t":4.43,"v":1.92},{"t":4.43,"v":2.32},{"t":4.43,"v":2.72},{"t":4.43,"v":3.15},
{"t":4.73,"v":0.4},{"t":4.73,"v":0.82},{"t":4.73,"v":1.22},{"t":4.73,"v":1.62},{"t":4.73,"v":2.0},{"t":4.73,"v":2.45},{"t":4.73,"v":2.9},
{"t":5.03,"v":0.35},{"t":5.03,"v":0.75},{"t":5.03,"v":1.15},{"t":5.03,"v":1.55},{"t":5.03,"v":1.95},{"t":5.03,"v":2.35},{"t":5.03,"v":2.8},{"t":5.03,"v":3.25},
{"t":5.33,"v":0.45},{"t":5.33,"v":0.88},{"t":5.33,"v":1.3},{"t":5.33,"v":1.7},{"t":5.33,"v":2.1},{"t":5.33,"v":2.5},{"t":5.33,"v":2.95},
{"t":5.63,"v":0.4},{"t":5.63,"v":0.8},{"t":5.63,"v":1.2},{"t":5.63,"v":1.62},{"t":5.63,"v":2.02},{"t":5.63,"v":2.42},{"t":5.63,"v":2.85},{"t":5.63,"v":3.35},
{"t":5.93,"v":0.62},{"t":5.93,"v":1.02},{"t":5.93,"v":1.42},{"t":5.93,"v":1.82},{"t":5.93,"v":2.22},{"t":5.93,"v":2.65},{"t":5.93,"v":3.2},
{"t":6.23,"v":0.7},{"t":6.23,"v":1.1},{"t":6.23,"v":1.5},{"t":6.23,"v":1.9},{"t":6.23,"v":2.32},{"t":6.23,"v":2.75},{"t":6.23,"v":3.25},
{"t":6.53,"v":0.82},{"t":6.53,"v":1.22},{"t":6.53,"v":1.62},{"t":6.53,"v":2.02},{"t":6.53,"v":2.45},{"t":6.53,"v":2.95},
{"t":6.83,"v":0.95},{"t":6.83,"v":1.4},{"t":6.83,"v":1.8},{"t":6.83,"v":2.2},{"t":6.83,"v":2.65},{"t":6.83,"v":3.2},
{"t":7.13,"v":1.1},{"t":7.13,"v":1.52},{"t":7.13,"v":1.95},{"t":7.13,"v":2.4},{"t":7.13,"v":2.9},
{"t":7.43,"v":1.3},{"t":7.43,"v":1.75},{"t":7.43,"v":2.2},{"t":7.43,"v":2.7},{"t":7.43,"v":3.25},
{"t":5.5,"v":4.2},{"t":6.3,"v":4.6},{"t":7.2,"v":5.0},{"t":8.1,"v":5.6},{"t":8.8,"v":6.3},{"t":9.6,"v":6.8},{"t":10.5,"v":7.2},{"t":11.3,"v":7.9},{"t":12.0,"v":8.5},{"t":12.4,"v":9.4},{"t":11.9,"v":11.6},{"t":13.6,"v":8.1},{"t":12.9,"v":6.6},{"t":13.7,"v":5.3},{"t":12.2,"v":5.0},{"t":11.6,"v":4.3},{"t":12.5,"v":3.9},{"t":13.1,"v":4.5},{"t":14.2,"v":5.7},{"t":14.6,"v":7.0},{"t":15.5,"v":5.5},{"t":10.2,"v":6.0},{"t":9.3,"v":5.5},{"t":8.5,"v":4.9},{"t":7.6,"v":4.6},{"t":6.8,"v":4.3},{"t":9.9,"v":4.4},{"t":10.6,"v":5.1},{"t":11.9,"v":6.9},{"t":12.6,"v":7.4},{"t":13.4,"v":6.9},{"t":14.0,"v":8.3},{"t":10.8,"v":8.6},{"t":9.8,"v":2.1},{"t":10.7,"v":2.5},{"t":11.8,"v":3.0},{"t":12.3,"v":2.7},{"t":9.2,"v":1.6},{"t":8.6,"v":1.2},{"t":12.1,"v":2.2},{"t":13.3,"v":3.2},{"t":14.0,"v":2.6},{"t":11.2,"v":3.4},{"t":12.8,"v":2.0},{"t":11.3,"v":1.7},{"t":13.1,"v":2.0},{"t":15.9,"v":3.9},{"t":16.7,"v":3.7},{"t":15.7,"v":3.5},{"t":14.6,"v":4.7},{"t":13.8,"v":3.1},{"t":14.0,"v":6.3},{"t":15.2,"v":7.6},{"t":15.4,"v":5.6},{"t":17.0,"v":5.8},{"t":18.6,"v":5.4},{"t":19.3,"v":6.2},{"t":21.2,"v":5.8},{"t":23.1,"v":6.5},{"t":23.8,"v":7.1},{"t":22.4,"v":8.0},{"t":17.3,"v":8.8},{"t":18.4,"v":9.0},{"t":21.2,"v":10.5},{"t":16.2,"v":6.4},{"t":12.6,"v":10.6},{"t":11.4,"v":11.4},{"t":13.0,"v":5.7},{"t":14.9,"v":4.2},{"t":10.0,"v":5.3},{"t":9.0,"v":7.0},{"t":12.2,"v":6.1},{"t":13.5,"v":4.0},{"t":8.0,"v":6.5},
{"t":8.0,"v":5.1},{"t":8.9,"v":5.5},{"t":9.5,"v":6.2},{"t":10.3,"v":6.7},{"t":11.0,"v":6.3},{"t":11.7,"v":7.6},{"t":12.4,"v":8.0},{"t":10.9,"v":4.6},{"t":11.4,"v":5.6},{"t":12.0,"v":4.7},{"t":12.7,"v":5.5},{"t":13.2,"v":6.3},{"t":9.4,"v":4.7},{"t":10.1,"v":5.0},{"t":7.3,"v":4.6},{"t":8.2,"v":4.4},{"t":13.6,"v":7.5},{"t":14.4,"v":6.4},{"t":15.0,"v":6.8},{"t":12.7,"v":4.2},{"t":14.1,"v":4.8},{"t":15.3,"v":4.5},{"t":13.4,"v":2.6},{"t":12.0,"v":1.8},{"t":10.4,"v":2.1},{"t":11.6,"v":2.4},{"t":14.8,"v":3.2},{"t":16.4,"v":4.8},{"t":17.7,"v":4.6},{"t":18.0,"v":6.3}
        ]}, "mark": {"type": "circle", "color": "#a3a3a3", "size": 16, "opacity": 1}},
        {"data": {"values": [{"t":4.23,"v":1.45},{"t":11.6,"v":12.7}]},
         "mark": {"type": "point", "color": "#e0201e", "size": 75, "strokeWidth": 1.3, "filled": false, "opacity": 1}}
      ]
    }
  ]
}
]
}
